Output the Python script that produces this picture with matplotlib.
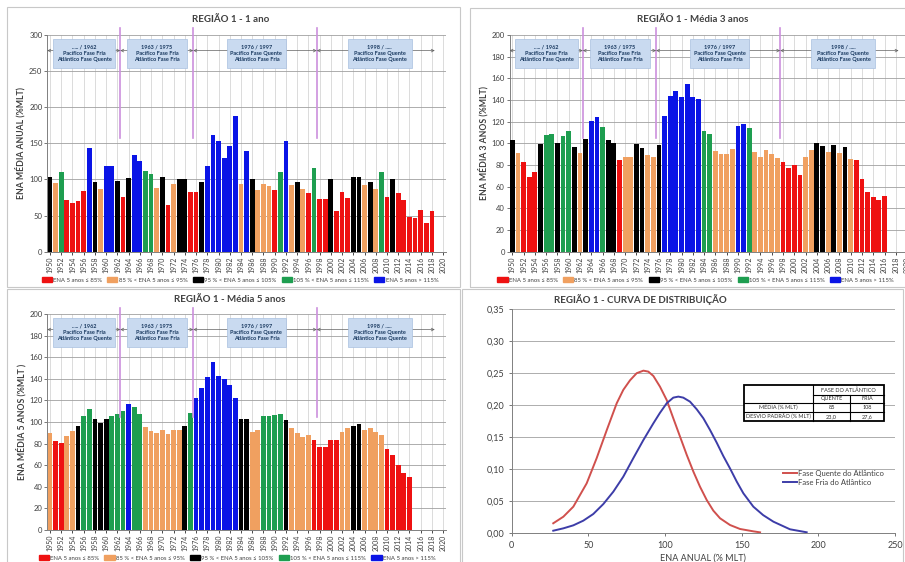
import matplotlib
matplotlib.use("Agg")
from matplotlib import pyplot as plt
from matplotlib.patches import Patch, Rectangle
from matplotlib.ticker import FuncFormatter

plt.rcParams['font.family'] = ['Liberation Sans Narrow', 'Lato', 'DejaVu Sans']

# ---- data ----
years1 = list(range(1950, 2019))
vals1 = [104, 95, 110, 71, 68, 70, 84, 143, 96, 87,
         118, 118, 98, 76, 102, 134, 125, 112, 108, 88,
         103, 64, 94, 101, 101, 83, 83, 96, 118, 162,
         153, 130, 147, 188, 94, 140, 100, 85, 94, 91,
         85, 110, 153, 92, 97, 87, 81, 116, 73, 73,
         101, 57, 82, 75, 104, 103, 92, 97, 87, 111,
         76, 100, 81, 72, 48, 46, 58, 40, 57]
codes1 = list("KOGRRRRBKO" "BBKRKBBGGO" "KROKKRRKBB" "BBBBOBKOOO"
              "RGBOKORGRR" "KRRRKKOKOG" "RKRRRRRRR")

years3y = list(range(1950, 2017))
vals3y = [103, 91, 83, 69, 74, 99, 108, 108.6, 100, 107,
          111, 97, 91, 104, 121, 124, 115, 103, 100, 85,
          87, 87, 99, 96, 89, 87, 98.5, 125.5, 144, 148,
          143, 155, 143, 140.6, 111.7, 108.6, 93, 90.5, 90, 94.8,
          115.7, 118, 114, 92, 87.7, 94, 90, 86.8, 82.8, 77.5,
          80.3, 71, 87, 94, 100, 97.5, 92, 98.5, 91, 96.3,
          86, 85, 67.4, 55.4, 50.8, 47.7, 51.7]
codes3y = list("KORRRKGGKG" "GKOKBBGKKR" "OOKKOOKBBB" "BBBBGGOOOO"
               "BBGOOOOORR" "RROOKKOKOK" "ORRRRRR")

years5y = list(range(1950, 2015))
vals5y = [89.5, 82.4, 80.2, 87, 92, 96, 105.6, 111.7, 103, 99,
          102.5, 105.6, 107.4, 110, 116.7, 114, 107.7, 95, 91.7, 90,
          92.6, 89, 93, 93, 96, 108, 122, 131.5, 141.7, 156,
          142.6, 140, 134, 122, 102.8, 102.5, 90.7, 92.6, 106, 105.6,
          106.5, 107, 101.5, 94, 90, 86, 88, 83.6, 77, 77,
          83, 83, 91, 94, 96.6, 98, 93, 94.4, 90.7, 88,
          74.7, 69, 60, 52.8, 48.8]
codes5y = list("ORROOKGGKK" "KGGGBGGOOO" "OOOOKGBBBB" "BBBBKKOOGG"
               "GGKOOOORRR" "RROOKKOOOO" "RRRRR")

class_colors = {'R': '#EE1111', 'O': '#F0A060', 'K': '#000000', 'G': '#1E9E50', 'B': '#0A14E6'}
class_labels = ["ENA 5 anos \u2264 85%", "85 % < ENA 5 anos \u2264 95%", "95 % < ENA 5 anos \u2264 105%",
                "105 % < ENA 5 anos \u2264 115%", "ENA 5 anos > 115%"]

phase_breaks = [1962.5, 1975.5, 1997.5]
phase_spans = [(1949.5, 1962.5), (1962.5, 1975.5), (1975.5, 1997.5), (1997.5, 2018.5)]
phase_texts = ["..... / 1962\nPacífico Fase Fria\nAtlântico Fase Quente",
               "1963 / 1975\nPacífico Fase Fria\nAtlântico Fase Fria",
               "1976 / 1997\nPacífico Fase Quente\nAtlântico Fase Fria",
               "1998 / .....\nPacífico Fase Quente\nAtlântico Fase Quente"]
box_x0 = [1950.5, 1963.7, 1981.5, 2003.0]
box_x1 = [1961.6, 1974.4, 1992.0, 2014.4]

# distribution curves
red_x = [27.1, 33.7, 40.2, 48.9, 55.4, 62.0, 68.5, 72.8, 77.2, 81.5, 85.9, 89.1, 92.4, 96.7,
         101.1, 105.4, 109.8, 114.2, 118.5, 122.8, 127.2, 131.5, 135.9, 142.4, 148.9, 157.6, 162.0]
red_y = [0.0152, 0.0255, 0.0412, 0.0777, 0.117, 0.161, 0.203, 0.224, 0.239, 0.250, 0.254, 0.2525,
         0.2457, 0.229, 0.208, 0.1795, 0.1507, 0.122, 0.096, 0.0725, 0.0516, 0.035, 0.023, 0.0125,
         0.0063, 0.0026, 0.001]
blue_x = [27.1, 33.7, 40.2, 46.7, 53.2, 59.8, 66.3, 72.8, 79.3, 85.9, 92.4, 96.7, 101.1, 105.4,
          108.7, 111.9, 116.3, 120.7, 125.0, 129.4, 133.7, 138.0, 142.4, 146.8, 151.1, 157.6,
          164.0, 170.7, 181.5, 192.4]
blue_y = [0.0036, 0.0073, 0.012, 0.0193, 0.0297, 0.0454, 0.0647, 0.0882, 0.117, 0.1455, 0.1716,
          0.188, 0.203, 0.2118, 0.2134, 0.2118, 0.2055, 0.1935, 0.1795, 0.161, 0.1414, 0.1205,
          0.101, 0.0803, 0.0621, 0.0412, 0.028, 0.0177, 0.0058, 0.0011]

W, H = 905, 562
fig = plt.figure(figsize=(W / 100, H / 100), dpi=100)


def px_axes(x0, y0, x1, y1):
    # pixel box (top-left origin) -> axes
    return fig.add_axes([x0 / W, 1 - y1 / H, (x1 - x0) / W, (y1 - y0) / H])


def frame(x0, y0, x1, y1):
    fig.add_artist(Rectangle((x0 / W, 1 - y1 / H), (x1 - x0) / W, (y1 - y0) / H,
                             transform=fig.transFigure, fill=False, ec='#c8c8c8', lw=0.8))


def bar_panel(ax, years, vals, codes, ymax, ystep, ylabel, title, tpos, ylpos, leg_x):
    ax.bar(years, vals, width=0.85, color=[class_colors[c] for c in codes], zorder=3)
    ax.set_xlim(1949.5, 2020.5)
    ax.set_ylim(0, ymax)
    ax.set_yticks(range(0, ymax + 1, ystep))
    ax.set_xticks(range(1950, 2021, 2))
    ax.set_xticklabels([str(y) for y in range(1950, 2021, 2)], rotation=90, fontsize=5, color='#404040')
    ax.tick_params(axis='y', labelsize=5.5, colors='#404040', length=2, width=0.5, pad=1.5)
    ax.tick_params(axis='x', length=2, width=0.5, pad=1.5)
    ax.grid(axis='y', color='#a0a0a0', lw=0.6, zorder=0)
    ax.grid(axis='x', color='#d6d6d6', lw=0.6, zorder=0)
    ax.set_axisbelow(True)
    for s in ['top', 'right']:
        ax.spines[s].set_visible(False)
    for s in ['left', 'bottom']:
        ax.spines[s].set_color('#808080')
        ax.spines[s].set_linewidth(0.7)

    tr = ax.get_xaxis_transform()
    for x in phase_breaks:
        ax.plot([x, x], [0.525, 1.03], transform=tr, color='#CC90DD', lw=1.2, clip_on=False, zorder=4)
    for a, b in phase_spans:
        ax.annotate('', xy=(a, 0.928), xytext=(b, 0.928), xycoords=tr, textcoords=tr,
                    arrowprops=dict(arrowstyle='<->', lw=0.5, color='#606060',
                                    shrinkA=0, shrinkB=0, mutation_scale=5), zorder=4)
    for a, b, txt in zip(box_x0, box_x1, phase_texts):
        ax.add_patch(Rectangle((a, 0.848), b - a, 0.133, transform=tr, facecolor='#C9DAF0',
                               edgecolor='#A9C0E0', lw=0.5, zorder=5))
        ax.text((a + b) / 2, 0.914, txt, transform=tr, ha='center', va='center', fontsize=4,
                fontweight='bold', color='#17375E', zorder=6, linespacing=1.3)

    handles = [Patch(color=class_colors[c]) for c in "ROKGB"]
    ax.legend(handles, class_labels, loc='center', bbox_to_anchor=(leg_x, -0.13), ncol=5,
              fontsize=4.3, frameon=False, handlelength=1.7, handleheight=0.9,
              handletextpad=0.2, columnspacing=0.9, labelcolor='#404040')

    fig.text(tpos[0] / W, 1 - tpos[1] / H, title, ha='center', va='center', fontsize=7,
             fontweight='bold', color='#404040')
    fig.text(ylpos[0] / W, 1 - ylpos[1] / H, ylabel, ha='center', va='center', rotation=90,
             fontsize=6.2, fontweight='bold', color='#404040')


# panel frames
frame(7, 7, 460, 287)
frame(470, 8, 912, 287)
frame(7, 289, 460, 575)
frame(462, 289, 903, 575)

ax1 = px_axes(47.2, 35, 446, 251.7)
bar_panel(ax1, years1, vals1, codes1, 300, 50, "ENA MÉDIA ANUAL (%MLT)",
          "REGIÃO 1 - 1 ano", (231, 20), (20.7, 143), 0.483)

ax2 = px_axes(509.5, 35, 909.9, 251.7)
bar_panel(ax2, years3y, vals3y, codes3y, 200, 20, "ENA MÉDIA 3 ANOS (%MLT)",
          "REGIÃO 1 - Média 3 anos", (693, 20), (483, 143), 0.465)

ax3 = px_axes(47.2, 314, 446, 530)
bar_panel(ax3, years5y, vals5y, codes5y, 200, 20, "ENA MÉDIA 5 ANOS (%MLT )",
          "REGIÃO 1 - Média 5 anos", (230, 300), (21.7, 422), 0.476)

# distribution panel
ax4 = px_axes(511.7, 309.3, 895, 533)
ax4.plot(red_x, red_y, color='#D0504D', lw=1.4, label="Fase Quente do Atlântico")
ax4.plot(blue_x, blue_y, color='#3D3DA8', lw=1.4, label="Fase Fria do Atlântico")
ax4.set_xlim(0, 250)
ax4.set_ylim(0, 0.35)
ax4.set_yticks([0, 0.05, 0.10, 0.15, 0.20, 0.25, 0.30, 0.35])
ax4.yaxis.set_major_formatter(FuncFormatter(lambda v, p: f"{v:.2f}".replace('.', ',')))
ax4.set_xticks([0, 50, 100, 150, 200, 250])
ax4.tick_params(labelsize=6.5, colors='#404040', length=2, width=0.5)
ax4.grid(axis='y', color='#a0a0a0', lw=0.6)
ax4.set_axisbelow(True)
for s in ['top', 'right']:
    ax4.spines[s].set_visible(False)
for s in ['left', 'bottom']:
    ax4.spines[s].set_color('#808080')
    ax4.spines[s].set_linewidth(0.7)
ax4.set_xlabel("ENA ANUAL (% MLT)", fontsize=6.5, color='#404040', labelpad=3)
ax4.legend(loc='center left', bbox_to_anchor=(0.69, 0.246), fontsize=5.5, frameon=False,
           handlelength=1.8, handletextpad=0.1, labelspacing=0.3, labelcolor='#404040')
fig.text(640 / W, 1 - 300 / H, "REGIÃO 1 - CURVA DE DISTRIBUIÇÃO", ha='center', va='center',
         fontsize=7, fontweight='bold', color='#404040')

# statistics table
ta = ax4.transAxes
cx = [0.606, 0.786, 0.883, 0.971]
ry = [0.662, 0.617, 0.582, 0.542, 0.502]
ax4.add_patch(Rectangle((cx[0], ry[4]), cx[3] - cx[0], ry[0] - ry[4], transform=ta,
                        facecolor='white', edgecolor='black', lw=1.3, zorder=5))
tbl_lines = [((cx[1], cx[3]), (ry[1], ry[1])), ((cx[0], cx[3]), (ry[2], ry[2])),
             ((cx[0], cx[3]), (ry[3], ry[3])), ((cx[1], cx[1]), (ry[4], ry[0])),
             ((cx[2], cx[2]), (ry[4], ry[1]))]
for xs, ys in tbl_lines:
    ax4.plot(xs, ys, transform=ta, color='black', lw=0.8, zorder=6)
tbl_cells = [("FASE DO ATLÂNTICO", (cx[1] + cx[3]) / 2, (ry[0] + ry[1]) / 2),
             ("QUENTE", (cx[1] + cx[2]) / 2, (ry[1] + ry[2]) / 2),
             ("FRIA", (cx[2] + cx[3]) / 2, (ry[1] + ry[2]) / 2),
             ("MÉDIA (% MLT)", (cx[0] + cx[1]) / 2, (ry[2] + ry[3]) / 2),
             ("85", (cx[1] + cx[2]) / 2, (ry[2] + ry[3]) / 2),
             ("108", (cx[2] + cx[3]) / 2, (ry[2] + ry[3]) / 2),
             ("DESVIO PADRÃO (% MLT)", (cx[0] + cx[1]) / 2, (ry[3] + ry[4]) / 2),
             ("23,0", (cx[1] + cx[2]) / 2, (ry[3] + ry[4]) / 2),
             ("27,6", (cx[2] + cx[3]) / 2, (ry[3] + ry[4]) / 2)]
for txt, x, y in tbl_cells:
    ax4.text(x, y, txt, transform=ta, ha='center', va='center', fontsize=4, color='#303030', zorder=7)

fig.savefig("out.png", dpi=100)
